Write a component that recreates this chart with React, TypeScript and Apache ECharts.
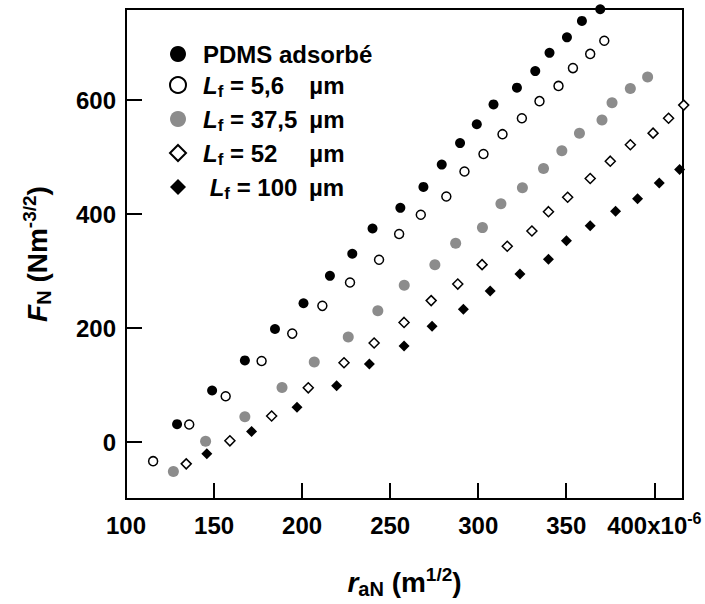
import React, { useEffect, useRef } from 'react';
import * as echarts from 'echarts';

const FONT = '"Liberation Sans", Arial, Helvetica, sans-serif';

const seriesNames = ['PDMS adsorbé', 'Lf = 5,6 µm', 'Lf = 37,5 µm', 'Lf = 52 µm', 'Lf = 100 µm'];

const pdmsX = [129.0, 148.9, 167.5, 184.6, 200.8, 215.8, 228.5, 240.0, 255.8, 268.9, 279.3, 289.7, 299.2, 308.7, 322.0, 332.4, 340.5, 350.4, 358.9, 369.3];
const pdmsY = [31.3, 90.4, 143.3, 198.3, 243.5, 291.7, 330.4, 374.8, 411.0, 447.8, 487.0, 524.7, 557.7, 592.5, 622.0, 651.1, 683.0, 710.3, 739.1, 759.5];

const lf56X = [115.4, 135.9, 156.6, 177.0, 194.4, 211.5, 227.2, 243.7, 255.1, 267.4, 281.9, 292.2, 303.0, 313.8, 324.8, 334.8, 345.6, 353.8, 363.6, 371.6];
const lf56Y = [-33.6, 30.8, 80.3, 142.1, 190.3, 239.0, 280.0, 320.0, 365.2, 399.0, 430.8, 474.8, 505.6, 540.3, 568.2, 598.3, 625.0, 656.3, 681.2, 704.3];

const lf375X = [126.9, 145.2, 167.5, 188.6, 206.9, 226.2, 243.0, 258.0, 275.4, 287.2, 302.4, 312.9, 325.1, 337.1, 347.5, 357.5, 370.3, 376.0, 386.4, 396.2];
const lf375Y = [-51.8, 1.2, 44.3, 95.5, 140.3, 184.3, 230.3, 275.1, 311.3, 348.7, 376.3, 418.3, 446.4, 480.0, 511.3, 542.1, 565.2, 595.5, 620.3, 640.7];

const lf52X = [134.2, 159.0, 182.7, 203.5, 223.8, 240.9, 257.9, 273.3, 288.4, 302.2, 316.5, 330.5, 339.9, 350.8, 363.6, 375.0, 386.4, 399.3, 408.1, 416.7];
const lf52Y = [-38.3, 2.1, 45.6, 95.1, 139.1, 173.9, 209.9, 248.2, 277.2, 311.3, 343.5, 370.4, 404.3, 429.6, 462.6, 492.9, 521.7, 542.1, 568.2, 591.3];

const lf100X = [145.9, 171.3, 197.1, 219.6, 238.2, 257.9, 273.8, 291.6, 306.8, 323.7, 339.9, 350.1, 363.6, 378.0, 390.5, 402.8, 414.4];
const lf100Y = [-20.5, 18.6, 61.2, 98.6, 136.9, 168.7, 203.0, 233.0, 265.0, 295.1, 320.7, 353.4, 379.5, 405.2, 426.8, 454.6, 478.3];

const xTicks = [100, 150, 200, 250, 300, 350, 400];
const yTicks = [0, 200, 400, 600];

const zip = (xs: number[], ys: number[]) => xs.map((x, i) => [x, ys[i]]);

const legendLabels: Record<string, string> = {
  'PDMS adsorbé': '{g| }{b|PDMS adsorbé}',
  'Lf = 5,6 µm': '{g| }{i|L}{s|f}{n| = 5,6}{b|µm}',
  'Lf = 37,5 µm': '{g| }{i|L}{s|f}{n| = 37,5}{b|µm}',
  'Lf = 52 µm': '{g| }{i|L}{s|f}{n| = 52}{b|µm}',
  'Lf = 100 µm': '{g| }{b| }{i|L}{s|f}{n2| = 100}{b|µm}',
};

export default function App() {
  const ref = useRef<HTMLDivElement>(null);
  useEffect(() => {
    if (!ref.current) return;
    const chart = echarts.init(ref.current, undefined, { renderer: 'svg' });
    const base = { fontFamily: FONT, fontWeight: 'bold' as const, color: '#000' };
    const titleRich = {
      b: { ...base, fontSize: 28, lineHeight: 34 },
      i: { ...base, fontSize: 28, fontStyle: 'italic', lineHeight: 34 },
      s: { ...base, fontSize: 20, lineHeight: 20, verticalAlign: 'bottom' },
      sup: { ...base, fontSize: 19, lineHeight: 19, verticalAlign: 'top' },
    };
    const option: any = {
      animation: false,
      backgroundColor: '#fff',
      textStyle: { fontFamily: FONT },
      grid: {
        left: 126,
        top: 9,
        width: 557,
        height: 495,
        show: true,
        borderColor: '#000',
        borderWidth: 2,
        backgroundColor: 'transparent',
      },
      legend: {
        orient: 'vertical',
        left: 164,
        top: 37,
        itemWidth: 16,
        itemHeight: 16,
        itemGap: 7,
        selectedMode: false,
        data: seriesNames,
        formatter: (name: string) => legendLabels[name],
        textStyle: {
          ...base,
          fontSize: 24,
          rich: {
            g: { width: 12, fontSize: 24, lineHeight: 30 },
            b: { ...base, fontSize: 24, lineHeight: 30 },
            i: { ...base, fontSize: 24, fontStyle: 'italic', lineHeight: 30 },
            s: { ...base, fontSize: 17, lineHeight: 17, verticalAlign: 'bottom' },
            n: { ...base, fontSize: 24, lineHeight: 30, width: 86 },
            n2: { ...base, fontSize: 24, lineHeight: 30, width: 79 },
          },
        },
      },
      xAxis: {
        type: 'value',
        min: 100,
        max: 416.3,
        splitLine: { show: false },
        axisLine: { show: false, onZero: false },
        axisTick: {
          show: true,
          inside: true,
          length: 16,
          lineStyle: { color: '#000', width: 2 },
          customValues: xTicks,
        },
        axisLabel: {
          margin: 11,
          customValues: xTicks,
          formatter: (v: number) => (v === 400 ? '{n|400x10}{sup|-6}' : '{n|' + v + '}'),
          rich: {
            n: { ...base, fontSize: 24, lineHeight: 30 },
            sup: { ...base, fontSize: 16, lineHeight: 16, verticalAlign: 'top' },
          },
        },
        name: '{i|r}{s|aN}{b| (m}{sup|1/2}{b|)}',
        nameLocation: 'middle',
        nameGap: 66,
        nameTextStyle: { rich: titleRich },
      },
      yAxis: {
        type: 'value',
        min: -100,
        max: 760,
        splitLine: { show: false },
        axisLine: { show: false, onZero: false },
        axisTick: {
          show: true,
          inside: true,
          length: 16,
          lineStyle: { color: '#000', width: 2 },
          customValues: yTicks,
        },
        axisLabel: {
          ...base,
          fontSize: 24,
          margin: 10,
          customValues: yTicks,
        },
        name: '{i|F}{s|N}{b| (Nm}{sup|-3/2}{b|)}',
        nameLocation: 'middle',
        nameRotate: 90,
        nameGap: 72,
        nameTextStyle: { rich: titleRich },
      },
      series: [
        {
          name: seriesNames[0],
          type: 'scatter',
          symbol: 'circle',
          symbolSize: 10,
          clip: false,
          itemStyle: { color: '#000', opacity: 1 },
          data: zip(pdmsX, pdmsY),
        },
        {
          name: seriesNames[1],
          type: 'scatter',
          symbol: 'circle',
          symbolSize: 9,
          clip: false,
          itemStyle: { color: '#fff', borderColor: '#000', borderWidth: 1.5, opacity: 1 },
          data: zip(lf56X, lf56Y),
        },
        {
          name: seriesNames[2],
          type: 'scatter',
          symbol: 'circle',
          symbolSize: 11,
          clip: false,
          itemStyle: { color: '#8c8c8c', opacity: 1 },
          data: zip(lf375X, lf375Y),
        },
        {
          name: seriesNames[3],
          type: 'scatter',
          symbol: 'diamond',
          symbolSize: 10,
          clip: false,
          itemStyle: { color: '#fff', borderColor: '#000', borderWidth: 1.5, opacity: 1 },
          data: zip(lf52X, lf52Y),
        },
        {
          name: seriesNames[4],
          type: 'scatter',
          symbol: 'diamond',
          symbolSize: 11,
          clip: false,
          itemStyle: { color: '#000', opacity: 1 },
          data: zip(lf100X, lf100Y),
        },
      ],
    };
    chart.setOption(option);
    return () => chart.dispose();
  }, []);
  return (
    <div
      ref={ref}
      style={{ position: 'fixed', left: 0, top: 0, width: 705, height: 604, background: '#fff' }}
    />
  );
}
